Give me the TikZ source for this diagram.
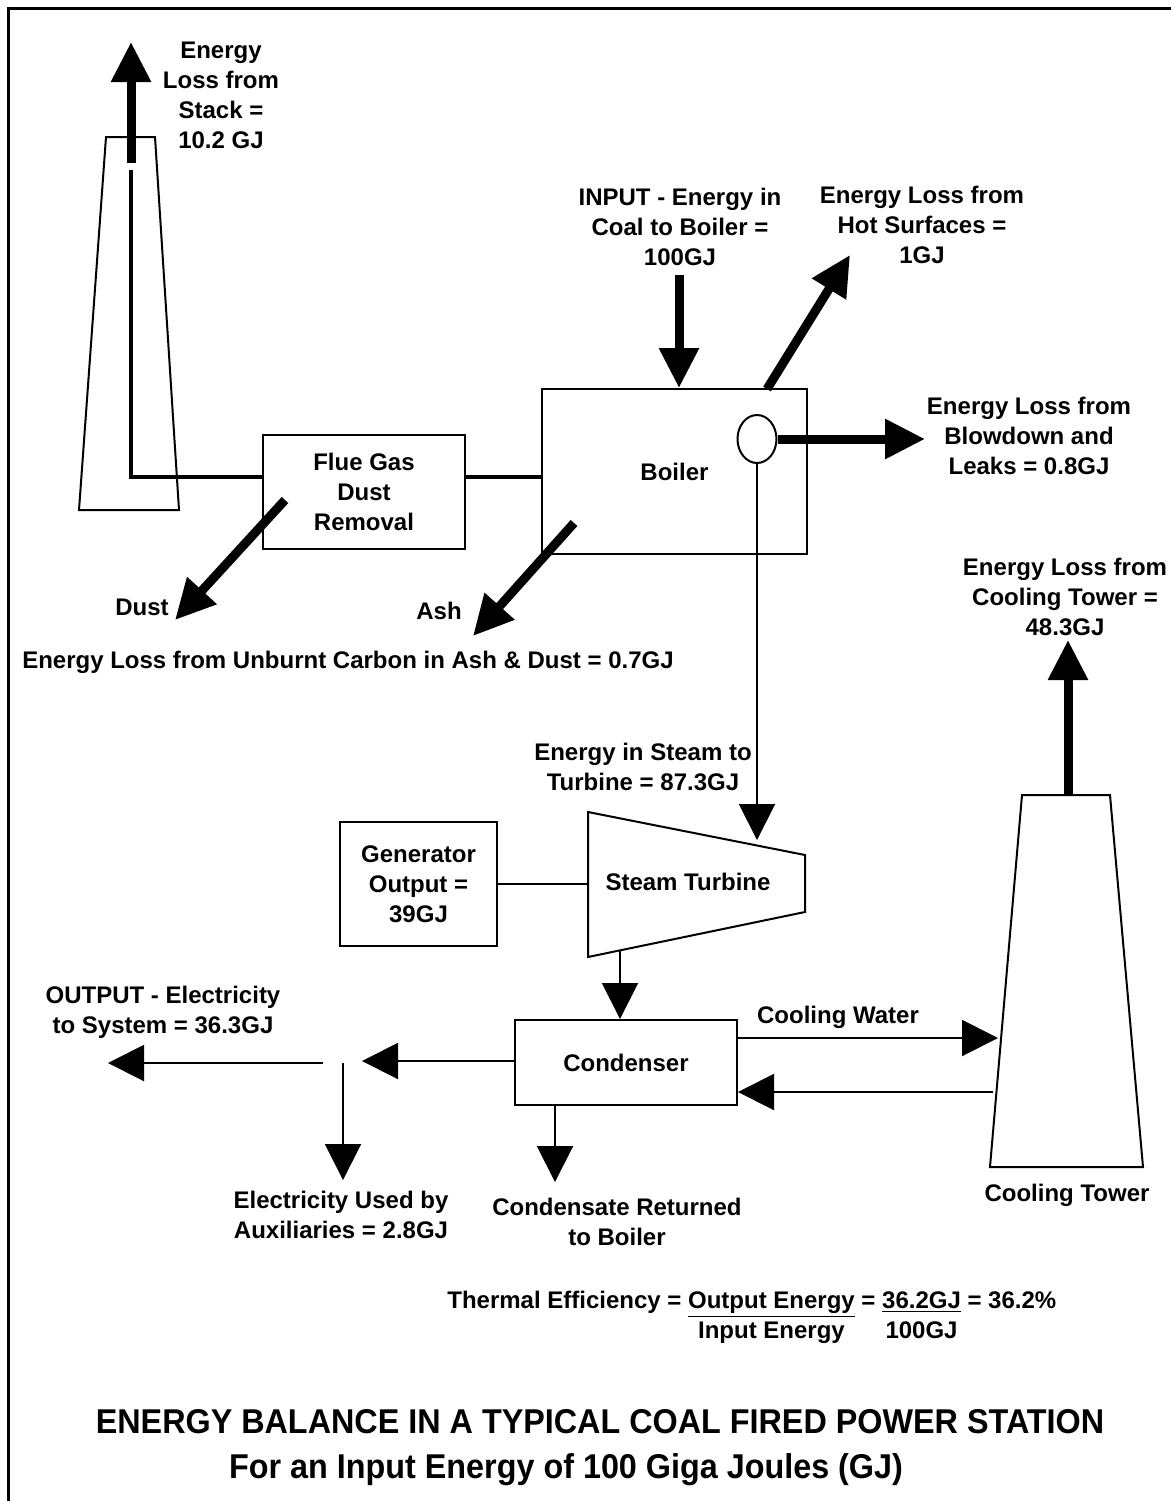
\documentclass[tikz,border=0pt]{standalone}
\usepackage{fontspec}
\setmainfont{Liberation Sans}
\newfontfamily\titlefont{Liberation Sans}[FakeStretch=0.94]
\usetikzlibrary{arrows.meta,shapes.geometric}

\begin{document}
\begin{tikzpicture}[x=0.5pt,y=-0.5pt,
    font=\fontsize{12}{15}\selectfont\bfseries,
    box/.style={draw, line width=1pt, align=center, inner sep=0pt},
    heavy/.style={line width=4.5pt, -{Triangle[length=20pt,width=19pt]}},
    lean/.style={line width=1pt, -{Triangle[length=18pt,width=18pt]}},
    lbl/.style={align=center, inner sep=0pt}]
    \useasboundingbox (0,0) rectangle (1171,1501);
    \draw[line width=1.5pt] (8,1501) -- (8,8) -- (1171,8);

    % stack, cooling tower, turbine
    \draw[line width=1pt] (79,510) -- (106,137) -- (155,137) -- (179,510) -- cycle;
    \draw[line width=1pt] (990,1167) -- (1022,795) -- (1110,795) -- (1143,1167) -- cycle;
    \draw[line width=1pt] (588,812) -- (805,855) -- (805,912) -- (588,957) -- cycle;

    \node[box, minimum width=101pt, minimum height=57pt] (flue) at (364,492) {Flue Gas\\Dust\\Removal};
    \node[box, minimum width=132.5pt, minimum height=82.5pt] (boiler) at (674.5,471.5) {Boiler};
    \node[draw, ellipse, line width=1pt, minimum width=19.5pt, minimum height=24pt, inner sep=0pt] (valve) at (757,439) {};
    \node[box, minimum width=78.5pt, minimum height=62pt] (gen) at (418.5,884) {Generator\\Output =\\39GJ};
    \node[box, minimum width=111pt, minimum height=42.5pt] (cond) at (626,1062.5) {Condenser};
    \node[lbl] (turb) at (688,882) {Steam Turbine};

    \coordinate (stkfoot) at (131,163);
    \coordinate (stkout) at (131,42);
    \coordinate (stkin) at (131,170);
    \coordinate (coal) at (679,275);
    \coordinate (hot) at (850,255);
    \coordinate (hotbase) at (767,389);
    \coordinate (blowout) at (925,439);
    \coordinate (dustbase) at (285,500);
    \coordinate (dustout) at (175,620);
    \coordinate (ashbase) at (574,523);
    \coordinate (ashout) at (473,636);
    \coordinate (turbtop) at (757,840);
    \coordinate (turbleft) at (588,884);
    \coordinate (turbfoot) at (620,950);
    \coordinate (towerin) at (998,1038);
    \coordinate (towerback) at (993,1092);
    \coordinate (towertop) at (1068,795);
    \coordinate (towerout) at (1068,640);
    \coordinate (split) at (362,1061);
    \coordinate (splitb) at (323,1063);
    \coordinate (elecout) at (108,1063);
    \coordinate (auxtop) at (343,1063);
    \coordinate (auxout) at (343,1180);
    \coordinate (retout) at (555,1182);

    \draw[heavy] (stkfoot) -- (stkout);
    \draw[line width=2pt] (stkin) |- (flue.west |- 0,477);
    \draw[line width=2pt] (flue.east |- 0,477) -- (boiler.west |- 0,477);
    \draw[heavy] (dustbase) -- (dustout);
    \draw[heavy] (ashbase) -- (ashout);
    \draw[heavy] (coal) -- (boiler.north -| coal);
    \draw[heavy] (hotbase) -- (hot);
    \draw[heavy] (valve.east) -- (blowout);
    \draw[lean] (valve.south) -- (turbtop);
    \draw[line width=1pt] (gen.east) -- (turbleft);
    \draw[lean] (turbfoot) -- (cond.north -| turbfoot);
    \draw[lean] (cond.east |- towerin) -- (towerin);
    \draw[lean] (towerback) -- (cond.east |- towerback);
    \draw[lean] (cond.west |- split) -- (split);
    \draw[lean] (splitb) -- (elecout);
    \draw[lean] (auxtop) -- (auxout);
    \draw[lean] (cond.south -| retout) -- (retout);
    \draw[heavy] (towertop) -- (towerout);

    \node[lbl] (stklbl) at (221,95) {Energy\\Loss from\\Stack =\\10.2 GJ};
    \node[lbl] (coallbl) at (680,227) {INPUT - Energy in\\Coal to Boiler =\\100GJ};
    \node[lbl] (hotlbl) at (922,225) {Energy Loss from\\Hot Surfaces =\\1GJ};
    \node[lbl] (blowlbl) at (1029,436) {Energy Loss from\\Blowdown and\\Leaks = 0.8GJ};
    \node[lbl] (dustlbl) at (142,607) {Dust};
    \node[lbl] (ashlbl) at (439,611) {Ash};
    \node[lbl] (carbonlbl) at (348,662) {Energy Loss from Unburnt Carbon in Ash \& Dust = 0.7GJ};
    \node[lbl] (towerlbl) at (1065,597) {Energy Loss from\\Cooling Tower =\\48.3GJ};
    \node[lbl] (steamlbl) at (643,767) {Energy in Steam to\\Turbine = 87.3GJ};
    \node[lbl] (waterlbl) at (838,1017) {Cooling Water};
    \node[lbl] (elecl) at (163,1012) {OUTPUT - Electricity\\to System = 36.3GJ};
    \node[lbl] (auxlbl) at (341,1215) {Electricity Used by\\Auxiliaries = 2.8GJ};
    \node[lbl] (retlbl) at (617,1222) {Condensate Returned\\to Boiler};
    \node[lbl] (towername) at (1067,1195) {Cooling Tower};
    \node[anchor=base west, inner sep=0pt] (eff) at (447,1308) {Thermal Efficiency = \begin{tabular}[t]{@{}c@{}}\underline{Output Energy}\\Input Energy\end{tabular} = \begin{tabular}[t]{@{}c@{}}\underline{36.2GJ}\\100GJ\end{tabular} = 36.2\%};
    \node[lbl, font=\titlefont\bfseries\fontsize{17.2}{24}\selectfont] (title) at (600,1422) {ENERGY BALANCE IN A TYPICAL COAL FIRED POWER STATION};
    \node[lbl, font=\titlefont\bfseries\fontsize{17.2}{24}\selectfont] (subtitle) at (566,1470) {For an Input Energy of 100 Giga Joules (GJ)};
\end{tikzpicture}
\end{document}
